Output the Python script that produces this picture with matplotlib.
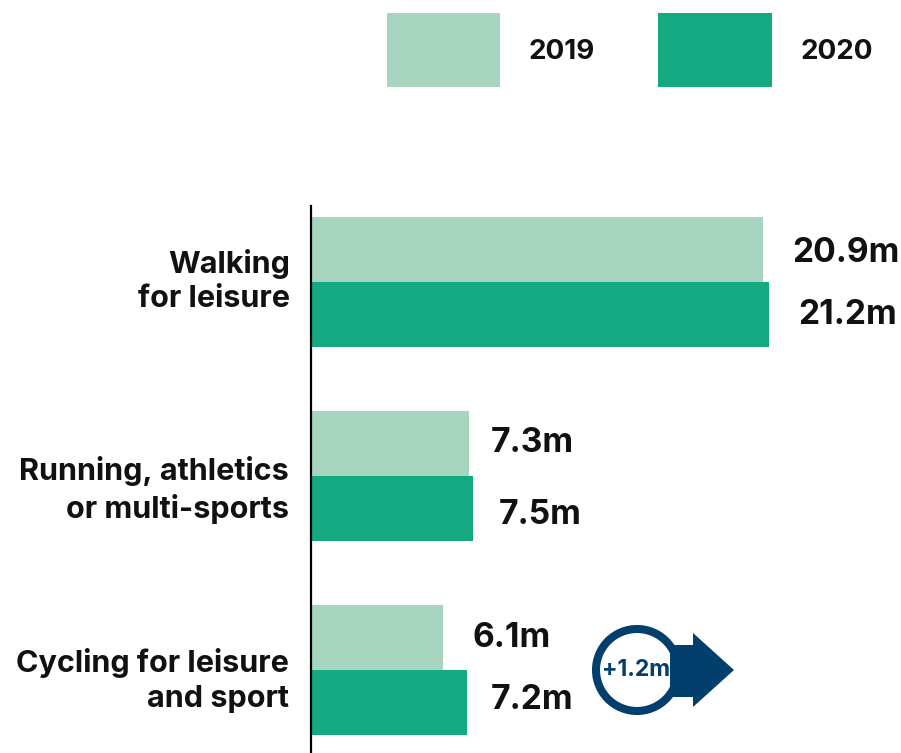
import matplotlib
matplotlib.use("Agg")
import matplotlib.pyplot as plt
from matplotlib.patches import Rectangle, Circle, Polygon

categories = ["Walking\nfor leisure", "Running, athletics\nor multi-sports", "Cycling for leisure\nand sport"]
years = ["2019", "2020"]
values_2019 = [20.9, 7.3, 6.1]
values_2020 = [21.2, 7.5, 7.2]
labels_2019 = ["20.9m", "7.3m", "6.1m"]
labels_2020 = ["21.2m", "7.5m", "7.2m"]
c19, c20 = "#a8d5c0", "#14a981"
navy = "#023f6c"
ink = "#111111"
W, H = 901, 753
plt.rcParams['font.family'] = ['Inter', 'DejaVu Sans']
fig = plt.figure(figsize=(W/100, H/100), dpi=100)
left, right, top, bottom = 311, 901, 206, 753
ax = fig.add_axes([left/W, 1-bottom/H, (right-left)/W, (bottom-top)/H])
scale = (769-311)/21.2
ax.set_xlim(0, (right-left)/scale)
ax.set_ylim(bottom, top)
centers = [281.5, 476, 670]
h = 65
ax.barh([c-h/2 for c in centers], values_2019, height=h, color=c19, linewidth=0)
ax.barh([c+h/2 for c in centers], values_2020, height=h, color=c20, linewidth=0)
for s in ["top", "right", "bottom"]:
    ax.spines[s].set_visible(False)
ax.spines["left"].set_linewidth(1.6)
ax.set_xticks([])
ax.set_yticks([])
fs = 24.2
x19 = [792, 491, 473]
x20 = [798, 499, 491]
y19 = [253, 443, 638]
y20 = [315, 515, 700]
ycat = [281, 490, 680.5]
xcat = [290, 289, 289]
for i, c in enumerate(centers):
    ax.text((x19[i]-left)/scale, y19[i], labels_2019[i], fontsize=fs, fontweight="bold", va="center", ha="left", color=ink)
    ax.text((x20[i]-left)/scale, y20[i], labels_2020[i], fontsize=fs, fontweight="bold", va="center", ha="left", color=ink)
    fig.text(xcat[i]/W, 1-ycat[i]/H, categories[i], fontsize=22, fontweight="bold", ha="right", va="center", linespacing=1.3, color=ink)
# legend
fig.add_artist(Rectangle((387/W, 1-87/H), 113/W, 74/H, facecolor=c19, linewidth=0, transform=fig.transFigure))
fig.add_artist(Rectangle((658/W, 1-87/H), 114/W, 74/H, facecolor=c20, linewidth=0, transform=fig.transFigure))
fig.text(529/W, 1-52/H, years[0], fontsize=20, fontweight="bold", va="center", color=ink)
fig.text(801/W, 1-52/H, years[1], fontsize=20, fontweight="bold", va="center", color=ink)
# arrow badge
px = lambda x, y: (x/W, 1-y/H)
fig.add_artist(Polygon([px(670,645), px(693,645), px(693,633), px(734,670), px(693,707), px(693,697), px(670,697)], closed=True, facecolor=navy, linewidth=0, transform=fig.transFigure))
overlay = fig.add_axes([0, 0, 1, 1], facecolor="none")
overlay.set_xlim(0, W); overlay.set_ylim(H, 0); overlay.axis("off")
overlay.add_patch(Circle((637, 670), 41, facecolor="white", edgecolor=navy, linewidth=5.8))
overlay.text(636, 670.5, "+1.2m", fontsize=16.5, fontweight="bold", color=navy, ha="center", va="center")
fig.savefig("out.png", dpi=100)
